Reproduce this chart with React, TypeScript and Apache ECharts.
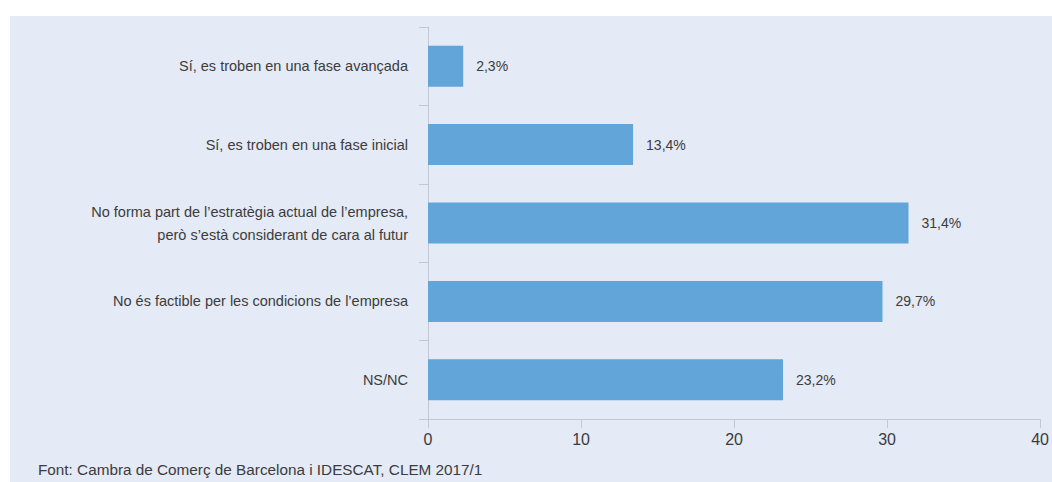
import React, { useEffect, useRef } from "react";
import * as echarts from "echarts";

const categories = [
  "Sí, es troben en una fase avançada",
  "Sí, es troben en una fase inicial",
  "No forma part de l’estratègia actual de l’empresa,\nperò s’està considerant de cara al futur",
  "No és factible per les condicions de l’empresa",
  "NS/NC",
];
const values = [2.3, 13.4, 31.4, 29.7, 23.2];
const xTicks = [0, 10, 20, 30, 40];
const sourceText = "Font: Cambra de Comerç de Barcelona i IDESCAT, CLEM 2017/1";

const NARROW = "'Liberation Sans Narrow', 'Liberation Sans', Arial, sans-serif";
const TEXT = "#3c3c3c";
const AXIS = "#c3c8d2";

export default function App() {
  const ref = useRef<HTMLDivElement>(null);
  useEffect(() => {
    if (!ref.current) return;
    const chart = echarts.init(ref.current, undefined, { renderer: "svg" });
    chart.setOption({
      animation: false,
      backgroundColor: "#ffffff",
      graphic: [
        {
          type: "rect",
          z: -10,
          silent: true,
          shape: { x: 10, y: 16, width: 1042, height: 466 },
          style: { fill: "#e4eaf6" },
        },
        {
          type: "text",
          left: 38,
          top: 462,
          style: {
            text: sourceText,
            fill: TEXT,
            font: "15.3px 'Liberation Sans', Arial, sans-serif",
          },
        },
      ],
      grid: { left: 428, right: 11, top: 27, bottom: 63, containLabel: false },
      xAxis: {
        type: "value",
        min: xTicks[0],
        max: xTicks[xTicks.length - 1],
        interval: 10,
        splitLine: { show: false },
        axisLine: { show: true, lineStyle: { color: AXIS, width: 1 } },
        axisTick: { show: true, length: 9, lineStyle: { color: AXIS } },
        axisLabel: {
          color: TEXT,
          fontFamily: NARROW,
          fontSize: 16,
          margin: 12,
        },
      },
      yAxis: {
        type: "category",
        inverse: true,
        data: categories,
        axisLine: { show: true, lineStyle: { color: AXIS, width: 1 } },
        axisTick: { show: true, length: 9, lineStyle: { color: AXIS } },
        axisLabel: {
          color: TEXT,
          fontFamily: NARROW,
          fontSize: 14.5,
          margin: 20,
          lineHeight: 23,
          align: "right",
        },
      },
      series: [
        {
          type: "bar",
          data: values,
          barWidth: 41,
          itemStyle: { color: "#62a5d9" },
          label: {
            show: true,
            position: "right",
            distance: 13,
            color: TEXT,
            fontFamily: NARROW,
            fontSize: 14,
            formatter: (p: any) => String(p.value).replace(".", ",") + "%",
          },
        },
      ],
    });
    return () => chart.dispose();
  }, []);
  return (
    <div
      ref={ref}
      style={{ position: "fixed", left: 0, top: 0, width: 1052, height: 482 }}
    />
  );
}
